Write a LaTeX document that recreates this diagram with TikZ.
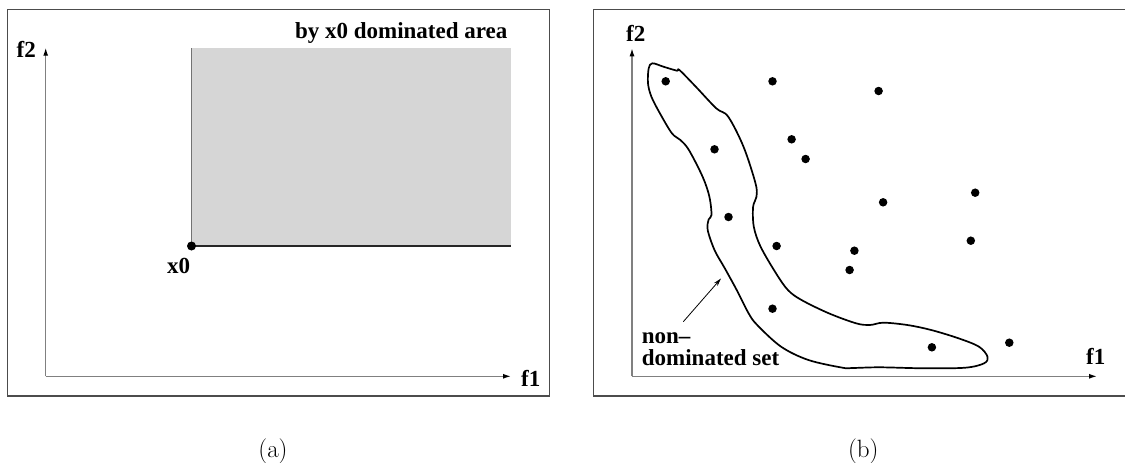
\documentclass[tikz,border=0pt]{standalone}
\usepackage{fontspec}
\newfontfamily\labelfont{Liberation Serif}
\usetikzlibrary{arrows.meta}
\begin{document}
\begin{tikzpicture}[x=1pt,y=-1pt,
  frame/.style={draw=black!70,line width=1.5pt},
  axis/.style={draw=black!50,line width=1.3pt,-{Latex[length=8pt,width=5pt,black]}},
  lab/.style={font=\labelfont\bfseries\fontsize{23}{27}\selectfont,inner sep=0pt,anchor=base},
  dot/.style={circle,fill=black,inner sep=0pt,minimum size=8.5pt},
  subcaption/.style={font=\fontsize{25}{30}\selectfont,inner sep=0pt,anchor=base},
  blob/.style={draw=black,line width=1.7pt,line join=round}]
\useasboundingbox (0,0) rectangle (1125,463);

% ---------- panel (a): dominated region of x0 ----------
\draw[frame] (7.5,9.3) rectangle (549.3,396);
\coordinate (rBL) at (191.5,246);
\coordinate (rTL) at (191.5,48.3);
\coordinate (rBR) at (510.7,246);
\coordinate (rTR) at (510.7,48.3);
\fill[black!16] (rBL) rectangle (rTR);
\draw[black!55,line width=1pt] (rBL) -- (rTL);
\draw[black!85,line width=1.2pt] (rBL) -- (rBR);
\node[dot,minimum size=9pt] (x0) at (rBL) {};
\node[lab] (x0lab) at (178.7,273.3) {x0};
\node[lab] (area) at (401.2,38.3) {by x0 dominated area};

\coordinate (oA) at (45.7,376.3);
\coordinate (yA) at (45.7,47.7);
\coordinate (xA) at (511,376.3);
\draw[axis] (oA) -- (yA);
\draw[axis] (oA) -- (xA);
\node[lab] (f2A) at (26.2,57.7) {f2};
\node[lab] (f1A) at (530.7,386.7) {f1};

% ---------- panel (b): non-dominated set ----------
\draw[frame] (1127,9.3) -- (593.4,9.3) -- (593.4,396) -- (1127,396);
\coordinate (oB) at (632,376.3);
\coordinate (yB) at (632,48.3);
\coordinate (xB) at (1097,376.3);
\draw[axis] (oB) -- (yB);
\draw[axis] (oB) -- (xB);
\node[lab] (f2B) at (635.7,41.7) {f2};
\node[lab] (f1B) at (1095.7,364.3) {f1};

\draw[blob] plot[smooth cycle,tension=0.55] coordinates {
  (652.4,63.3) (663.4,66.7) (677,70.7) (679.4,70) (695.8,86.7)
  (716.2,108.3) (728.2,116.7) (743.5,146.7) (755.5,183.3) (756.5,196.7)
  (753.1,206.7) (753.8,226.7) (760.6,246.7) (776,273.3) (787.9,290)
  (801.5,300) (828.8,313.3) (856.1,323.3) (869.8,325) (883.4,322.7)
  (907.3,325) (931.2,330) (958.5,338.3) (979,346.7) (987.5,356.7)
  (984.1,363.3) (965.3,367.7) (924.4,368.3) (880,367.3) (852.7,368)
  (842.5,367.7) (808.4,360) (781.1,346.7) (757.2,325) (748.6,313.3)
  (736.7,290) (724.8,268.3) (714.5,250) (707.7,230) (708.7,219.3)
  (711.5,215) (709.4,196.7) (702.6,176.7) (688.9,150) (680.4,140)
  (671.9,133.3) (659.9,113.3) (651.4,96.7) (648,83.3) (648.7,68.3)};

\node[dot] (p1)  at (665.7,81.3) {};
\node[dot] (p2)  at (772.5,81.3) {};
\node[dot] (p3)  at (878.6,91) {};
\node[dot] (p4)  at (791.6,139.3) {};
\node[dot] (p5)  at (714.5,149.3) {};
\node[dot] (p6)  at (805.6,159) {};
\node[dot] (p7)  at (975.2,192.7) {};
\node[dot] (p8)  at (883.1,202.3) {};
\node[dot] (p9)  at (728.5,217) {};
\node[dot] (p10) at (776.6,246) {};
\node[dot] (p11) at (970.8,240.7) {};
\node[dot] (p12) at (854.4,250.7) {};
\node[dot] (p13) at (849.6,270) {};
\node[dot] (p14) at (772.5,308.7) {};
\node[dot] (p15) at (1009.3,342.7) {};
\node[dot] (p16) at (931.9,347.3) {};

\node[lab,anchor=base west] (non) at (641.7,343.3) {non–};
\node[lab,anchor=base west] (domset) at (641.7,365) {dominated set};
\coordinate (ptrStart) at (683.3,321.7);
\coordinate (ptrTip) at (721,278.5);
\draw[line width=0.8pt,-{Stealth[length=8pt,width=4.5pt]}] (ptrStart) -- (ptrTip);

% ---------- captions ----------
\node[subcaption] (capa) at (273,457.5) {(a)};
\node[subcaption] (capb) at (863.3,457.5) {(b)};
\end{tikzpicture}
\end{document}
